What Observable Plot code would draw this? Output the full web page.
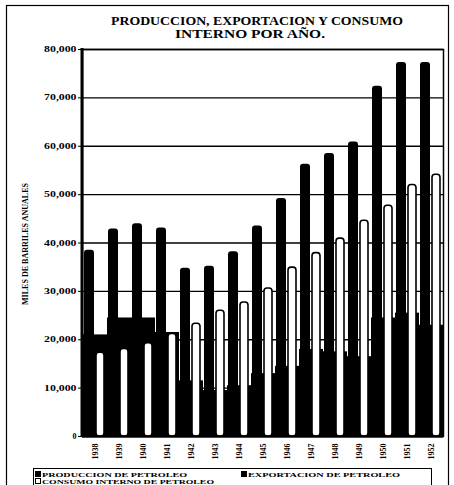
<!DOCTYPE html>
<html>
<head>
<meta charset="utf-8">
<script src="https://cdn.jsdelivr.net/npm/d3@7"></script>
<script src="https://cdn.jsdelivr.net/npm/@observablehq/plot@0.6"></script>
<style>
  body { margin: 0; background: #fff; }
  svg { display: block; }
</style>
</head>
<body>
<div id="chart"></div>
<script>
// Miles de barriles anuales, 1938–1952
const years = ["1938","1939","1940","1941","1942","1943","1944","1945","1946","1947","1948","1949","1950","1951","1952"];
const produccion = [38500, 42900, 44000, 43100, 34800, 35200, 38200, 43500, 49200, 56300, 58500, 60900, 72400, 77300, 77300];
const exportacion = [21000, 24500, 24500, 21500, 11500, 9500, 10500, 13000, 14500, 18000, 17500, 16500, 24500, 25500, 23000];
const consumo = [17300, 18100, 19300, 21200, 23300, 26000, 27700, 30600, 34900, 37900, 40900, 44600, 47700, 52000, 54100];
const yTicks = [0, 10000, 20000, 30000, 40000, 50000, 60000, 70000, 80000];

const titleLines = ["PRODUCCION, EXPORTACION Y CONSUMO", "INTERNO POR AÑO."];
const yLabel = "MILES DE BARRILES ANUALES";
const legendItems = [
  {label: "PRODUCCION DE PETROLEO", fill: "#000"},
  {label: "EXPORTACION DE PETROLEO", fill: "#000"},
  {label: "CONSUMO INTERNO DE PETROLEO", fill: "#fff"}
];

const serif = "'Liberation Serif', 'DejaVu Serif', serif";
const rows = years.map((year, i) => ({year, produccion: produccion[i], exportacion: exportacion[i], consumo: consumo[i]}));

const W = 454, H = 485;
const plot = Plot.plot({
  width: W,
  height: H,
  marginTop: 49,
  marginBottom: 49,
  marginLeft: 82,
  marginRight: 11,
  style: {fontFamily: serif, fontWeight: "bold", fontSize: "8px", color: "#000", background: "#fff"},
  x: {domain: years, padding: 0, label: null},
  y: {domain: [0, 80000], label: null},
  marks: [
    Plot.gridY(yTicks, {stroke: "#000", strokeOpacity: 1, strokeWidth: 1.4}),
    // exports sit behind the pair of bars in each year
    Plot.barY(rows, {x: "year", y: "exportacion", fill: "#000", insetLeft: 0, insetRight: 0}),
    Plot.barY(rows, {x: "year", y: "produccion", fill: "#000", insetLeft: 1, insetRight: 13, rx: 3}),
    Plot.barY(rows, {x: "year", y: "consumo", fill: "#fff", stroke: "#000", strokeWidth: 1.6, insetLeft: 13, insetRight: 3, rx: 3}),
    Plot.frame({stroke: "#000", strokeWidth: 1.5}),
    Plot.ruleY([0], {stroke: "#000", strokeWidth: 2}),
    Plot.axisY(yTicks, {tickFormat: d3.format(","), tickSize: 4, tickPadding: 2, fontSize: 8, fontWeight: 900}),
    Plot.axisX({tickRotate: -90, tickSize: 0, tickPadding: 7, fontSize: 8, fontWeight: 900})
  ]
});

const svg = d3.select(plot);

// wide, heavy tick numerals on the value axis
svg.selectAll('g[aria-label="y-axis tick label"] text').each(function() {
  const n = this.textContent.length;
  if (n > 1) d3.select(this).attr("textLength", 5.4 * n).attr("lengthAdjust", "spacingAndGlyphs");
});

// thick left axis line
svg.append("line")
  .attr("x1", 82).attr("x2", 82).attr("y1", 48).attr("y2", 437)
  .attr("stroke", "#000").attr("stroke-width", 3);

// outer border
svg.append("rect")
  .attr("x", 6.5).attr("y", 5.5).attr("width", 442).attr("height", 490)
  .attr("fill", "none").attr("stroke", "#000").attr("stroke-width", 1.2);

// title, two centred lines
const titleLayout = [{x: 257, y: 25, w: 292}, {x: 250, y: 37.5, w: 150}];
titleLines.forEach((line, i) => {
  const t = titleLayout[i];
  svg.append("text")
    .attr("x", t.x).attr("y", t.y)
    .attr("text-anchor", "middle")
    .attr("font-family", serif).attr("font-weight", 900).attr("font-size", 12)
    .attr("textLength", t.w).attr("lengthAdjust", "spacingAndGlyphs")
    .text(line);
});

// y axis label
svg.append("text")
  .attr("transform", "translate(28,244) rotate(-90)")
  .attr("text-anchor", "middle")
  .attr("font-family", serif).attr("font-weight", 900).attr("font-size", 9)
  .attr("textLength", 122).attr("lengthAdjust", "spacingAndGlyphs")
  .text(yLabel);

// legend
const lg = svg.append("g")
  .attr("font-family", serif).attr("font-weight", 900).attr("font-size", 7)
  .attr("text-anchor", "start");
lg.append("rect").attr("x", 33.5).attr("y", 468.5).attr("width", 398).attr("height", 17)
  .attr("fill", "#fff").attr("stroke", "#000").attr("stroke-width", 1);
const pos = [{x: 35, y: 471, w: 145}, {x: 241, y: 471, w: 152}, {x: 35, y: 478, w: 172}];
legendItems.forEach((d, i) => {
  const p = pos[i];
  lg.append("rect").attr("x", p.x + 0.5).attr("y", p.y + 0.5).attr("width", 5).attr("height", 5)
    .attr("fill", d.fill).attr("stroke", "#000").attr("stroke-width", 1);
  lg.append("text").attr("x", p.x + 7).attr("y", p.y + 5.5)
    .attr("text-anchor", "start")
    .attr("textLength", p.w).attr("lengthAdjust", "spacingAndGlyphs").text(d.label);
});

document.getElementById("chart").append(plot);
</script>
</body>
</html>
